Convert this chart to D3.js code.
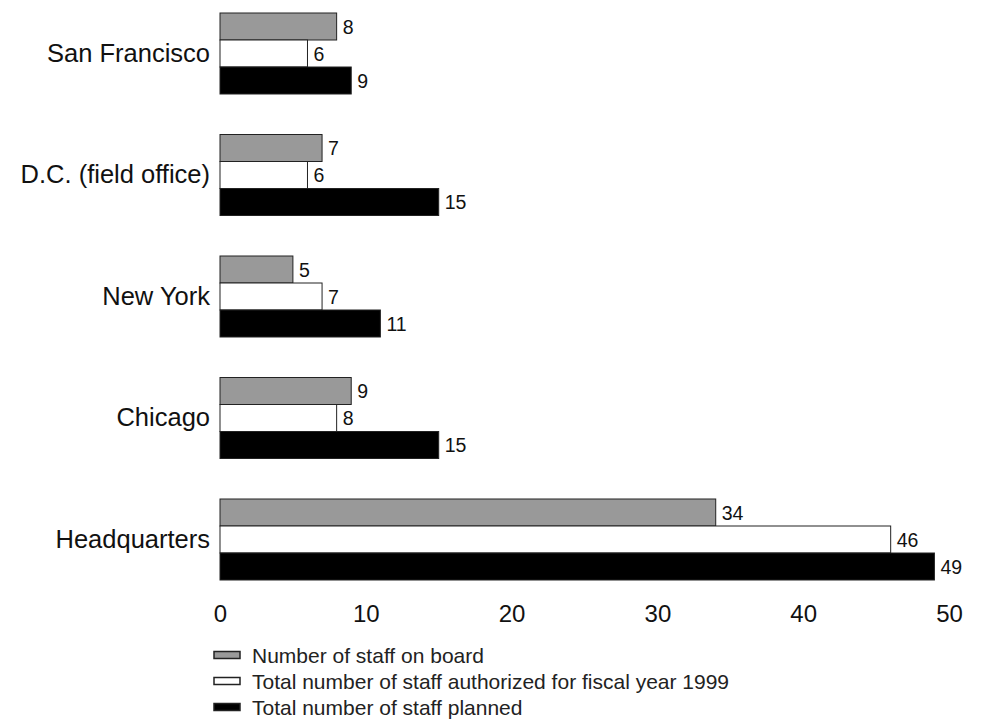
<!DOCTYPE html>
<html>
<head>
<meta charset="utf-8">
<script src="https://cdn.jsdelivr.net/npm/d3@7"></script>
<style>
  body { margin: 0; background: #fff; }
  svg { font-family: 'Liberation Sans', Arial, sans-serif; }
</style>
</head>
<body>
<div class="bar-chart-container"></div>
<script>
//Data
const categories = ['San Francisco', 'D.C. (field office)', 'New York', 'Chicago', 'Headquarters'];
const staffOnBoard = [8, 7, 5, 9, 34];
const staffAuthorized = [6, 6, 7, 8, 46];
const staffPlanned = [9, 15, 11, 15, 49];
const xTicks = [0, 10, 20, 30, 40, 50];
const seriesNames = ['Number of staff on board', 'Total number of staff authorized for fiscal year 1999', 'Total number of staff planned'];
const seriesColors = ['#999999', '#ffffff', '#000000'];

// 每個系列一組
const series = [staffOnBoard, staffAuthorized, staffPlanned].map((values, i) => ({
    name: seriesNames[i],
    color: seriesColors[i],
    values: values
}));

function setupCanvas(){
    const svg_width = 983;
    const svg_height = 720;

    const svg = d3.select('.bar-chart-container').append('svg')
        .attr('width', svg_width).attr('height', svg_height);

    //scale
    const xScale = d3.scaleLinear().domain([0, 50]).range([220, 949]);
    const yScale = d3.scaleBand().domain(categories).range([13, 580])
        .paddingInner(1/3).paddingOuter(0);
    const ySeries = d3.scaleBand().domain(d3.range(series.length)).range([0, yScale.bandwidth()]);

    //Draw bars
    const groups = svg.append('g').attr('class', 'bars')
        .selectAll('.group').data(categories).enter()
        .append('g').attr('class', 'group')
        .attr('transform', d => `translate(0,${yScale(d)})`);

    groups.each(function(cat, ci){
        const g = d3.select(this);
        series.forEach((s, si) => {
            g.append('rect')
                .attr('x', xScale(0))
                .attr('y', ySeries(si))
                .attr('width', xScale(s.values[ci]) - xScale(0))
                .attr('height', ySeries.bandwidth())
                .style('fill', s.color)
                .style('stroke', '#222')
                .style('stroke-width', 1);
            g.append('text')
                .attr('x', xScale(s.values[ci]) + 6)
                .attr('y', ySeries(si) + ySeries.bandwidth() / 2)
                .attr('dy', '0.36em')
                .text(s.values[ci])
                .style('font-size', '19.5px')
                .style('fill', '#111');
        });
    });

    //Draw X axis
    const xAxis = d3.axisBottom(xScale).tickValues(xTicks).tickSize(0).tickPadding(3);
    const xAxisDraw = svg.append('g').attr('class', 'x axis')
        .attr('transform', 'translate(0,602)')
        .call(xAxis);
    xAxisDraw.select('.domain').remove();
    xAxisDraw.selectAll('text').style('font-size', '24px').style('fill', '#111')
        .style('font-family', "'Liberation Sans', Arial, sans-serif");

    //Draw Y axis (category labels)
    const yAxis = d3.axisLeft(yScale).tickSize(0).tickPadding(10);
    const yAxisDraw = svg.append('g').attr('class', 'y axis')
        .attr('transform', `translate(${xScale(0)},0)`)
        .call(yAxis);
    yAxisDraw.select('.domain').remove();
    yAxisDraw.selectAll('text').style('font-size', '25.5px').style('fill', '#111')
        .style('font-family', "'Liberation Sans', Arial, sans-serif");

    //Draw legend
    const legend = svg.append('g').attr('class', 'legend')
        .selectAll('.legend-item').data(series).enter()
        .append('g').attr('class', 'legend-item')
        .attr('transform', (d, i) => `translate(214,${655 + i * 26})`);
    legend.append('rect')
        .attr('x', 0).attr('y', -3.5)
        .attr('width', 26).attr('height', 7)
        .style('fill', d => d.color)
        .style('stroke', '#222').style('stroke-width', 1.5);
    legend.append('text')
        .attr('x', 38).attr('y', 0).attr('dy', '0.36em')
        .text(d => d.name)
        .style('font-size', '21px')
        .style('fill', '#222');
}

setupCanvas();
</script>
</body>
</html>
